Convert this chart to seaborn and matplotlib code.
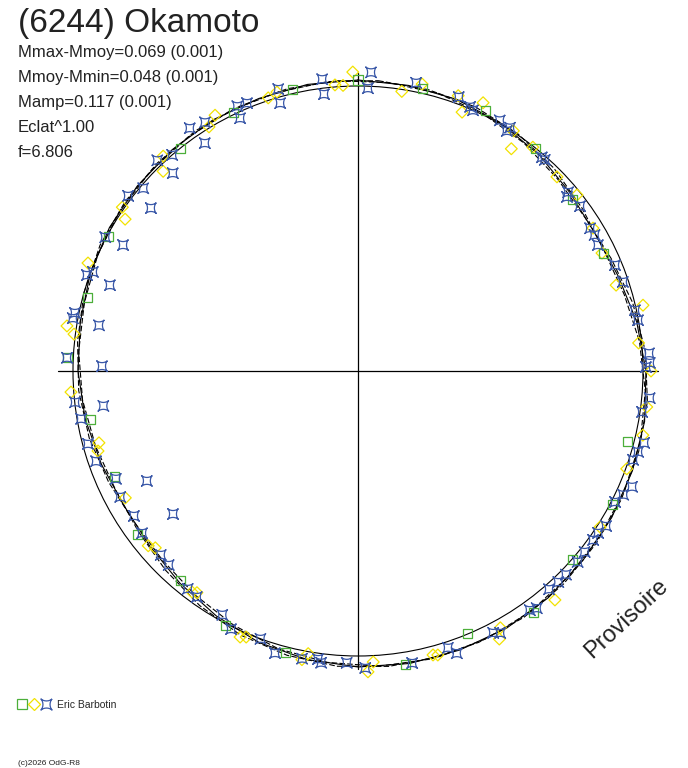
import numpy as np
import pandas as pd
import seaborn as sns
import matplotlib.pyplot as plt
from matplotlib.path import Path
from matplotlib.patches import Circle
from matplotlib.lines import Line2D
from matplotlib.legend_handler import HandlerTuple

# phase angle in degrees (0 at top, clockwise), radius in plot units

# fitted light curve, one radius every 10 deg of phase
model_phase = list(range(0, 360, 10))
model_r = [291, 290, 289, 286, 282, 277, 274, 277, 283, 288,
           291, 292, 293, 294, 296, 297, 297, 297, 296, 293,
           289, 283, 277, 272, 270, 273, 277, 280, 282, 285,
           287, 288, 289, 290, 290, 291]
mean_r = 285

green_phase = [0, 12.9, 26, 38.7, 51.3, 64.3, 104.7, 117.7, 131.3, 144, 157.4, 170.9,
               194.5, 207.6, 220.4, 233.4, 246.7, 259.8, 272.6, 285.3, 298.2, 321.4, 334.2, 347]
green_r = [291, 290, 290, 284.5, 275, 272, 279, 288, 286, 298, 283.8, 297.7,
           291, 286.7, 274.5, 275, 265.6, 272, 290.3, 280, 283.6, 285, 286.7, 289]

yellow_phase = [359, 355.4, 357, 8.9, 12.6, 20, 25, 21.9, 32.9, 34.6, 38, 45.7, 51.2, 58.7,
                64.2, 71.6, 77, 84.3, 90, 97.1, 102.7, 110, 122.8, 139.3, 151, 152.2, 165.2,
                164.3, 177, 178.1, 190, 191, 203.9, 202.8, 216.9, 216, 228.9, 230.2, 241.4,
                252.9, 254.5, 265.8, 277.4, 278.8, 291.8, 303.1, 304.8, 315.7, 317.8, 328.6,
                330.8, 341.8, 343.8]
yellow_r = [299, 287, 286, 283, 294, 293, 296, 279, 286, 270, 284, 278, 281, 275,
            271, 272, 292.5, 282, 293, 291, 292, 286, 288, 302, 293.6, 303, 293.7,
            295, 291.4, 301, 287, 294, 291, 288.6, 276.4, 274, 269, 273, 265,
            272, 268.8, 287.8, 286.4, 294.5, 290.8, 278, 287, 279, 290, 286,
            293, 287.5, 290.5]

blue_phase = [353, 353, 2.5, 2, 11.4, 20.2, 23, 23.8, 29.5, 31.8, 32, 40.7, 41.5, 49.6,
              50.2, 53.4, 58.4, 60.1, 62.3, 67.6, 71.4, 77.6, 79.7, 86.5, 88.4, 89.2, 95.3,
              98.2, 104.1, 106.1, 107.9, 112.9, 115, 117, 122, 124, 125.7, 128.6, 131, 134.4,
              136.5, 138.8, 144.3, 143, 152.7, 151.5, 162, 160.7, 169.5, 178.6, 182.2, 187.2,
              187.9, 191, 196.4, 200, 206.2, 209.1, 215.5, 218, 224.3, 227, 233.1, 237.1,
              232.3, 242.1, 242.5, 246, 251, 254.9, 260.2, 262.2, 263.7, 271.1, 272.6, 280,
              280.5, 281.6, 289.1, 289.5, 290.5, 298.2, 297.9, 308.2, 307.3, 310.4, 316.9,
              316.4, 319.3, 326.1, 325.3, 328.4, 335, 335.5, 337.5, 343.8, 344.2]
blue_r = [294, 279, 299, 283, 294, 292, 287, 285, 288, 282.5, 287, 282, 282, 276,
          272, 276.6, 272.5, 273, 271, 278, 279.5, 283.6, 284.6, 291.6, 292, 288, 293,
          287, 295, 291.5, 289, 297.5, 292.6, 288.5, 292.5, 289.6, 289.5, 290, 291, 291,
          291, 290, 294.5, 297, 294.7, 298, 291, 299, 297, 297, 292, 294,
          290.8, 293, 294, 285, 287.6, 279, 277.5, 276.4, 271, 269.6, 270, 266.8,
          233.8, 269, 238, 265, 277, 279.7, 281, 257, 284.7, 256, 291.3, 263,
          290, 289, 262.5, 287.5, 283, 266.6, 286, 263.5, 289, 282, 271,
          291, 285, 274.6, 295.4, 292, 279, 291, 290, 279, 293]


def to_xy(phase, r):
    a = np.radians(np.asarray(phase, dtype=float))
    r = np.asarray(r, dtype=float)
    return r * np.sin(a), r * np.cos(a)


sns.set_style('white')
plt.rcParams['font.family'] = ['Liberation Sans', 'DejaVu Sans']

fig = plt.figure(figsize=(6.88, 7.68), dpi=100)
ax = fig.add_axes([0, 0, 1, 1])
ax.set_xlim(-358, 330)
ax.set_ylim(-397, 371)
ax.set_aspect('equal')
ax.axis('off')

# axes cross
ax.plot([-300, 300], [0, 0], color='black', lw=0.9)
ax.plot([0, 0], [-298, 298], color='black', lw=0.9)

# mean magnitude circle
ax.add_patch(Circle((0, 0), mean_r, fill=False, color='black', lw=0.8))

# model curve and shifted curves (dashed)
ph = model_phase + [360]
rr = model_r + [model_r[0]]
for shift, ls in [(0, '-'), (-4, (0, (5, 2))), (4, (0, (5, 2)))]:
    mx, my = to_xy(np.array(ph) + shift, rr)
    sns.lineplot(x=mx, y=my, sort=False, estimator=None, color='black',
                 lw=0.8, linestyle=ls, ax=ax)

# observations; blue marker = concave square with corners on the diagonals
t = np.linspace(0, 2 * np.pi, 41)
cx = np.sign(np.cos(t)) * np.abs(np.cos(t)) ** 3.3
cy = np.sign(np.sin(t)) * np.abs(np.sin(t)) ** 3.3
star = Path(np.column_stack([(cx - cy), (cx + cy)]) / np.sqrt(2))

gx, gy = to_xy(green_phase, green_r)
yx, yy = to_xy(yellow_phase, yellow_r)
bx, by = to_xy(blue_phase, blue_r)
green = '#4caf3a'
yellow = '#f2e200'
blue = '#3a58a8'
sns.scatterplot(x=yx, y=yy, marker='D', s=36, facecolor='none', edgecolor=yellow,
                linewidth=0.9, ax=ax, zorder=3)
sns.scatterplot(x=gx, y=gy, marker='s', s=42, facecolor='none', edgecolor=green,
                linewidth=0.9, ax=ax, zorder=4)
sns.scatterplot(x=bx, y=by, marker=star, s=60, facecolor='none', edgecolor=blue,
                linewidth=0.9, ax=ax, zorder=5)

# texts
H = 768.0
W = 688.0
fig.text(18 / W, 1 - 32 / H, '(6244) Okamoto', fontsize=24, color='#222222', va='baseline')
lines = ['Mmax-Mmoy=0.069 (0.001)', 'Mmoy-Mmin=0.048 (0.001)', 'Mamp=0.117 (0.001)',
         'Eclat^1.00', 'f=6.806']
for i, s in enumerate(lines):
    fig.text(18 / W, 1 - (57 + 25 * i) / H, s, fontsize=12, color='#222222', va='baseline')

fig.text(626 / W, 1 - 619 / H, 'Provisoire', fontsize=17, rotation=43, color='#222222',
         ha='center', va='center', rotation_mode='anchor')
fig.text(18 / W, 1 - 765 / H, '(c)2026 OdG-R8', fontsize=6, color='#222222', va='baseline')

h1 = Line2D([], [], marker='s', ls='none', mfc='none', mec=green, ms=6.5, mew=0.9)
h2 = Line2D([], [], marker='D', ls='none', mfc='none', mec=yellow, ms=6, mew=0.9)
h3 = Line2D([], [], marker=star, ls='none', mfc='none', mec=blue, ms=8, mew=0.9)
fig.legend(handles=[(h1, h2, h3)], labels=['Eric Barbotin'],
           handler_map={tuple: HandlerTuple(ndivide=None, pad=0.4)},
           loc='center left', bbox_to_anchor=(13 / W, 1 - 705 / H), frameon=False,
           fontsize=7.5, handlelength=3.0, handletextpad=0.7, borderpad=0)

fig.savefig('out.png', dpi=100)
